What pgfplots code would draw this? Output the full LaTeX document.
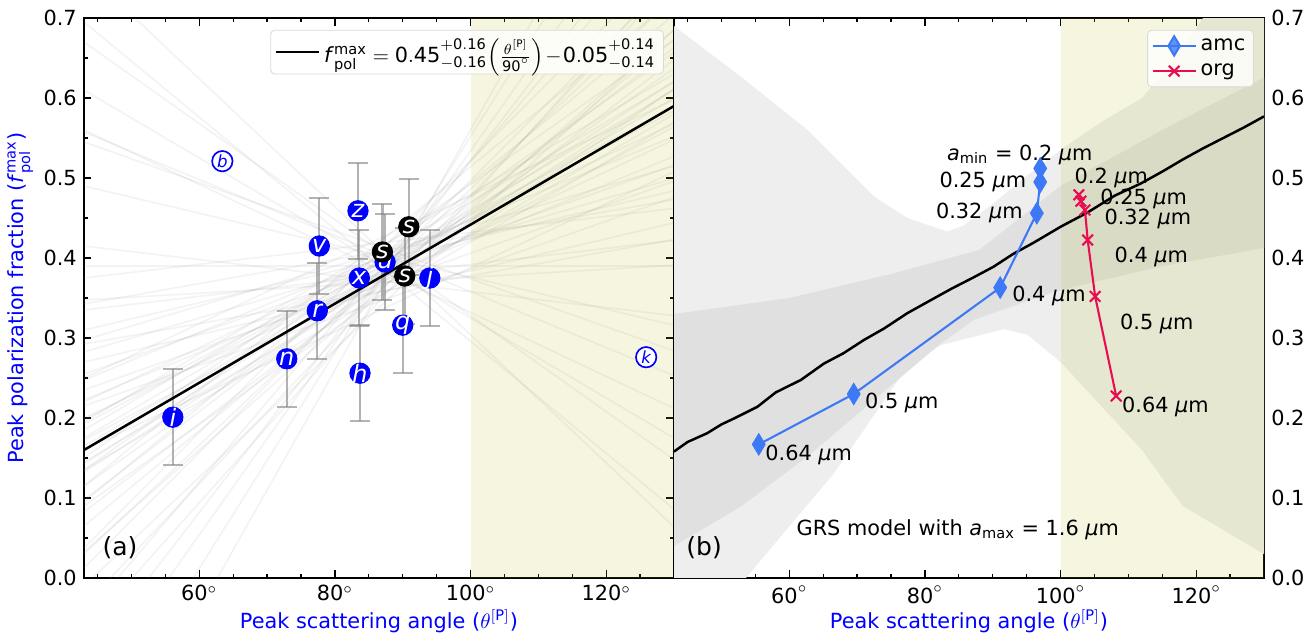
\documentclass[border=0pt]{standalone}
\usepackage{amsmath}
\usepackage{fontspec}
\setmainfont{DejaVu Sans}
\setmathrm{DejaVu Sans}
\usepackage{pgfplots}
\pgfplotsset{compat=1.18}
\usepackage{pgfplotstable}

\definecolor{amc}{RGB}{61,120,245}
\definecolor{org}{RGB}{232,12,80}
\definecolor{olivebg}{RGB}{188,189,34}
\definecolor{outerband}{RGB}{238,238,238}
\definecolor{innerband}{RGB}{224,224,224}

% posterior sample lines of the fit (value at x=43 and x=130)
\pgfplotstableread{
x y1 y2 y3 y4 y5 y6 y7 y8 y9 y10 y11 y12 y13 y14 y15 y16 y17 y18 y19 y20 y21 y22 y23 y24 y25 y26 y27 y28 y29 y30 y31 y32 y33 y34 y35 y36 y37 y38 y39 y40 y41 y42 y43 y44 y45 y46 y47 y48 y49 y50 y51 y52 y53 y54 y55 y56 y57 y58 y59 y60
43 0.165 0.145 0.185 0.20 0.22 0.09 0.15 0.255 0.235 0.095 0.065 0.31 0.27 0.03 -0.01 0.375 0.335 -0.05 -0.035 0.39 0.25 0.16 0.49 0.415 0.545 0.56 0.67 -0.15 -0.295 0.175 0.1325 0.1925 0.115 0.2475 0.0825 0.2825 0.0375 0.2925 0.76 -0.105 0.1975 0.2225 0.135 0.195 0.0975 0.0325 0.2975 0.61 0.5575 -0.0675 0.115 0.215 0.1425 0.1725 0.135 -0.2175 0.695 0.3425 0.3475 0.0125
130 0.60 0.58 0.62 0.548 0.568 0.612 0.672 0.516 0.496 0.704 0.674 0.484 0.444 0.726 0.686 0.462 0.422 0.82 0.748 0.39 0.598 0.508 0.316 0.328 0.284 0.212 0.148 0.894 1.01 0.61 0.611 0.584 0.637 0.552 0.648 0.4995 0.777 0.423 0.064 0.852 0.589 0.527 0.57 0.63 0.663 0.685 0.515 0.175 0.253 0.759 0.724 0.476 0.621 0.564 0.657 0.957 0.086 0.473 0.391 0.752
}\fantable

\pgfplotstableread{
x y label
56.1 0.201 i
72.9 0.274 n
77.4 0.334 r
77.7 0.415 v
83.4 0.459 z
83.6 0.375 x
83.7 0.256 h
87.4 0.395 u
90.0 0.316 q
94.0 0.375 j
}\bluepts

\pgfplotstableread{
x y label
87.0 0.4075 s
90.9 0.439 s
90.3 0.3775 s
}\blackpts

\pgfplotstableread{
x y label
63.4 0.521 b
125.9 0.276 k
}\openpts

\pgfplotstableread{
x y
55.5 0.167
69.5 0.230
91.1 0.363
96.5 0.456
97.0 0.495
97.0 0.512
}\amc

\pgfplotstableread{
x y
102.7 0.479
103.0 0.471
103.6 0.460
104.0 0.4225
105.1 0.352
108.2 0.2275
}\org

\pgfplotstableread{
x y
43 0.158
45 0.170
47.9 0.181
50 0.192
52 0.200
55.3 0.214
58 0.232
61.7 0.2475
65.1 0.268
68 0.281
71 0.2975
74 0.312
77.4 0.331
80.9 0.3475
84 0.362
87 0.375
90.1 0.389
93 0.405
96 0.419
100 0.439
104 0.457
108 0.478
111.8 0.493
115 0.508
118 0.523
121 0.537
124 0.550
127 0.563
130 0.577
}\model

\begin{document}
\begin{tikzpicture}
\useasboundingbox (-40.32pt,-27.36pt) rectangle (589.92pt,277.44pt);
\pgfplotsset{
  panel/.style={
    scale only axis, width=283.2pt, height=268.8pt,
    xmin=43, xmax=130, ymin=0, ymax=0.7,
    xtick={60,80,100,120},
    minor xtick={45,50,55,65,70,75,85,90,95,105,110,115,125},
    ytick={0,0.1,0.2,0.3,0.4,0.5,0.6,0.7},
    minor ytick={0.05,0.15,0.25,0.35,0.45,0.55,0.65},
    tick pos=both, tick align=inside,
    major tick length=3.6pt, minor tick length=2pt,
    tick style={black, line width=0.6pt},
    axis line style={line width=0.75pt},
    xticklabel={\pgfmathprintnumber[assume math mode=true]{\tick}$^{\circ}$},
    yticklabel style={/pgf/number format/.cd, fixed, fixed zerofill, precision=1, assume math mode=true},
    xlabel={Peak scattering angle ($\theta^{[\mathrm{P}]}$)},
    xlabel style={text=blue, at={(axis description cs:0.5,-0.077)}, anchor=center},
    legend cell align=left,
    legend image code/.code={\draw[mark repeat=2,mark phase=2,##1] plot coordinates {(0cm,0cm)(0.36cm,0cm)(0.72cm,0cm)};},
    legend style={at={(0.983,0.979)}, anchor=north east, draw=black!15,
      rounded corners=2pt, fill=white, fill opacity=0.8, text opacity=1,
      inner sep=2pt, row sep=1pt},
  },
  letters/.style={only marks, mark=*, mark size=4.9pt,
    nodes near coords, point meta=explicit symbolic,
    every node near coord/.append style={anchor=center, inner sep=0pt,
      font=\fontsize{11.5}{12}\selectfont\itshape, text=white}},
  ebar/.style={only marks, mark=none, forget plot,
    error bars/.cd, y dir=both, y fixed=0.06,
    error bar style={gray, opacity=0.6, line width=1.1pt},
    error mark options={rotate=90, gray, opacity=0.6, line width=1.1pt, mark size=4.8pt}},
}
% ---------- (a) ----------
\begin{axis}[panel, name=pa,
  ylabel={Peak polarization fraction (\textit{f}$^{\mathrm{max}}_{\mathrm{pol}}$)},
  ylabel style={text=blue, at={(axis description cs:-0.108,0.5)}, anchor=center}]
  \pgfplotsinvokeforeach{1,...,60}{
    \addplot[black!40, opacity=0.12, line width=0.8pt, forget plot] table[x=x, y=y#1] {\fantable};
  }
  \addplot[fill=olivebg, fill opacity=0.14, draw=none, forget plot]
    coordinates {(100,-0.1) (131,-0.1) (131,0.8) (100,0.8)} -- cycle;
  \addplot[ebar] table[x=x, y=y] {\bluepts};
  \addplot[ebar] table[x=x, y=y] {\blackpts};
  \addplot[black, line width=1.2pt] coordinates {(43,0.16) (130,0.59)};
  \addlegendentry{\textit{f}$^{\mathrm{max}}_{\mathrm{pol}} = \mathrm{0.45}^{\mathrm{+0.16}}_{-\mathrm{0.16}}\!\left(\frac{\theta^{[\mathrm{P}]}}{\mathrm{90}^{\circ}}\right)\!-\!\mathrm{0.05}^{\mathrm{+0.14}}_{-\mathrm{0.14}}$}
  \addplot[letters, forget plot, mark options={fill=blue, draw=blue}] table[x=x, y=y, meta=label] {\bluepts};
  \addplot[letters, forget plot, mark options={fill=black, draw=black}] table[x=x, y=y, meta=label] {\blackpts};
  \addplot[letters, forget plot, mark options={fill=white, draw=blue, line width=0.8pt},
    every node near coord/.append style={text=blue, font=\footnotesize\itshape}] table[x=x, y=y, meta=label] {\openpts};
  \node at (axis description cs:0.061,0.054) {\large (a)};
\end{axis}
% ---------- (b) ----------
\begin{axis}[panel, name=pb, at={(283.2pt,0pt)}, anchor=south west, yticklabel pos=right]
  \addplot[fill=outerband, draw=none, forget plot] coordinates {
    (40,0.70) (43,0.69) (52.8,0.627) (62.7,0.56) (72.5,0.477) (77.4,0.45) (83.3,0.433)
    (85.8,0.441) (90.2,0.469) (94.6,0.50) (100,0.535) (106,0.57) (112,0.60) (118,0.66)
    (124,0.74) (140,0.9) (140,-0.05) (130,0.03) (118,0.09) (112,0.16) (100,0.27) (95.1,0.304)
    (91.7,0.311) (82.3,0.291) (77.4,0.264) (66.6,0.131) (53.6,0.0) (43,-0.15) (40,-0.2)} -- cycle;
  \addplot[fill=innerband, draw=none, forget plot] coordinates {
    (40,0.33) (43,0.33) (60,0.35) (75,0.38) (88,0.41) (100,0.49) (115,0.56) (131,0.63)
    (131,0.414) (115,0.39) (100,0.36) (93,0.34) (87.2,0.3225) (82.3,0.293) (72.5,0.2225)
    (62.7,0.152) (52.8,0.089) (43,0.04) (40,0.02)} -- cycle;
  \addplot[fill=olivebg, fill opacity=0.14, draw=none, forget plot]
    coordinates {(100,-0.1) (131,-0.1) (131,0.8) (100,0.8)} -- cycle;
  \addplot[black, line width=1.2pt, forget plot] table[x=x, y=y] {\model};
  \addplot[amc, line width=1pt, mark=diamond*, mark size=4.6pt, mark options={xscale=0.8}] table[x=x, y=y] {\amc};
  \addlegendentry{amc}
  \addplot[org, line width=1pt, mark=x, mark size=3.6pt] table[x=x, y=y] {\org};
  \addlegendentry{org}
  \node at (axis cs:94.0,0.529) {\textit{a}$_{\mathrm{min}}$ = 0.2 \textit{μ}m};
  \node[anchor=east] at (axis cs:96.0,0.495) {0.25 \textit{μ}m};
  \node[anchor=east] at (axis cs:95.5,0.456) {0.32 \textit{μ}m};
  \node[anchor=west] at (axis cs:91.8,0.3525) {0.4 \textit{μ}m};
  \node[anchor=west] at (axis cs:70.1,0.219) {0.5 \textit{μ}m};
  \node[anchor=west] at (axis cs:55.4,0.154) {0.64 \textit{μ}m};
  \node[anchor=west] at (axis cs:101,0.50) {0.2 \textit{μ}m};
  \node[anchor=west] at (axis cs:104.8,0.474) {0.25 \textit{μ}m};
  \node[anchor=west] at (axis cs:105.4,0.449) {0.32 \textit{μ}m};
  \node[anchor=west] at (axis cs:106.9,0.401) {0.4 \textit{μ}m};
  \node[anchor=west] at (axis cs:107.7,0.3175) {0.5 \textit{μ}m};
  \node[anchor=west] at (axis cs:108.0,0.214) {0.64 \textit{μ}m};
  \node at (axis description cs:0.481,0.0857) {GRS model with \textit{a}$_{\mathrm{max}}$ = 1.6 \textit{μ}m};
  \node at (axis description cs:0.051,0.054) {\large (b)};
\end{axis}
\end{tikzpicture}
\end{document}
